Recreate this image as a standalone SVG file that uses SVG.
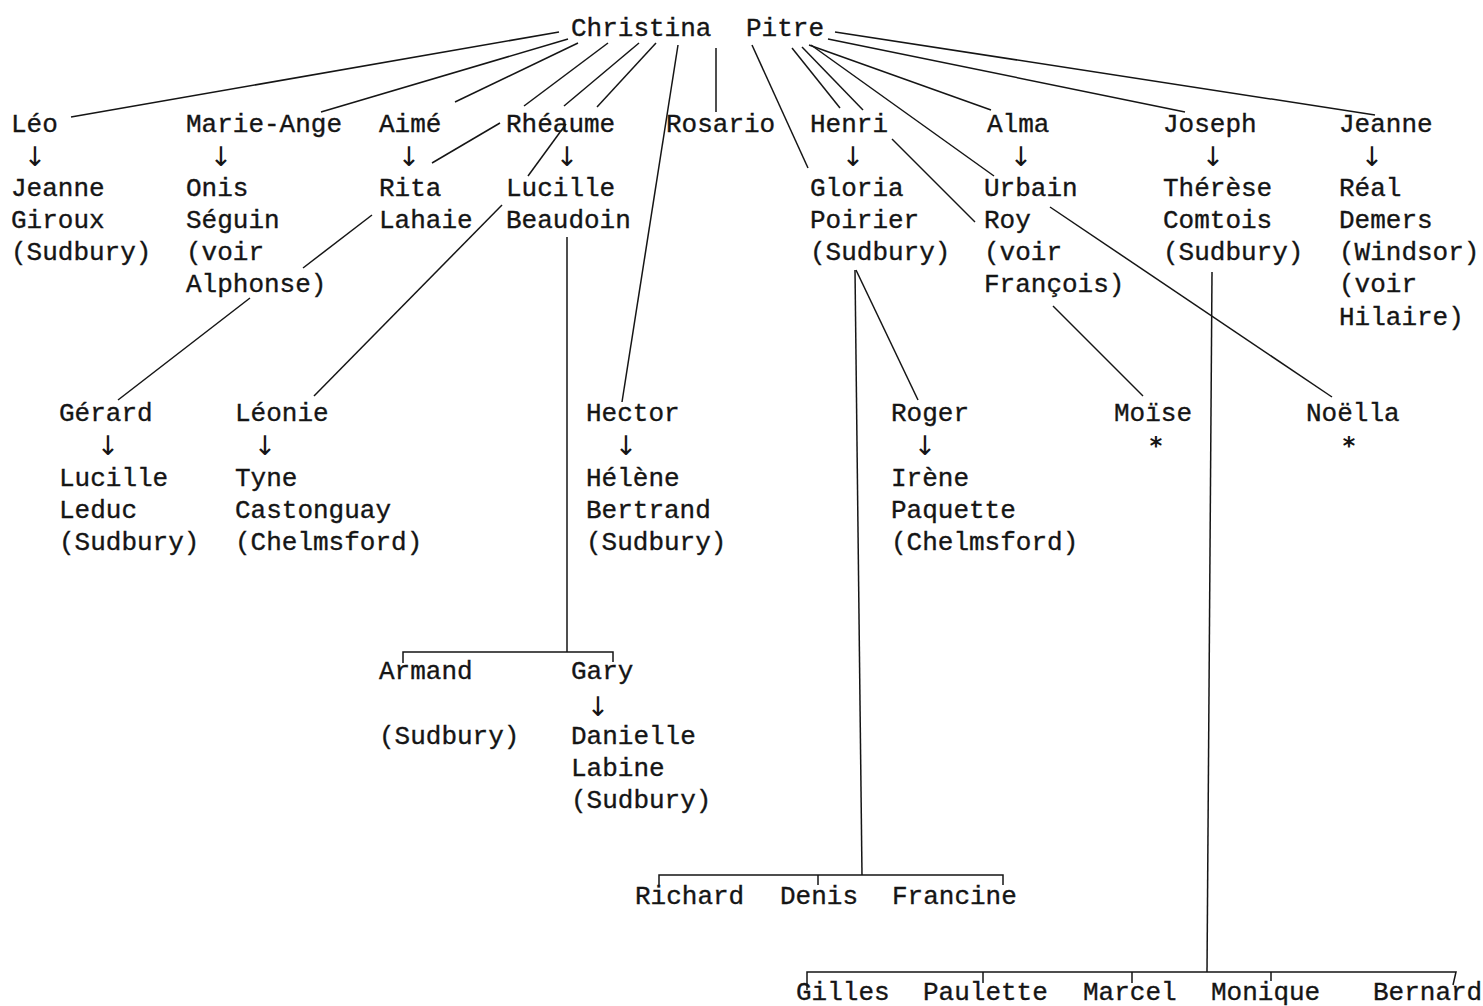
<svg xmlns="http://www.w3.org/2000/svg" width="1483" height="1006" viewBox="0 0 1483 1006">
<style>
.t{font-family:"Liberation Mono","DejaVu Sans Mono",monospace;font-size:26px;fill:#151515;stroke:#151515;stroke-width:0.35}
.a{font-family:"DejaVu Sans",sans-serif;font-size:27px;fill:#151515;text-anchor:middle}
.s{font-family:"DejaVu Sans Mono",monospace;font-size:24px;font-weight:bold;fill:#151515;text-anchor:middle}
.c line,.c polyline{stroke:#151515;stroke-width:1.5;fill:none}
</style>
<rect width="1483" height="1006" fill="#ffffff"/>
<g id="connectors" class="c">
<line x1="559" y1="32" x2="71" y2="117"/>
<line x1="568" y1="39" x2="321" y2="112"/>
<line x1="578" y1="43" x2="455" y2="102"/>
<line x1="608" y1="43" x2="524" y2="106"/>
<line x1="500" y1="123" x2="432" y2="163"/>
<line x1="639" y1="43" x2="564" y2="106"/>
<line x1="656" y1="43" x2="597" y2="107"/>
<line x1="678" y1="45" x2="622" y2="402"/>
<line x1="716" y1="48" x2="716" y2="112"/>
<line x1="566" y1="124" x2="528" y2="176"/>
<line x1="502" y1="205" x2="314" y2="396"/>
<line x1="372" y1="215" x2="303" y2="268"/>
<line x1="250" y1="298" x2="118" y2="400"/>
<line x1="567" y1="237" x2="567" y2="652"/>
<polyline points="403,663 403,652 613,652 613,662"/>
<line x1="752" y1="45" x2="808" y2="168"/>
<line x1="792" y1="48" x2="840" y2="108"/>
<line x1="802" y1="47" x2="863" y2="110"/>
<line x1="809" y1="45" x2="991" y2="110"/>
<line x1="811" y1="45" x2="994" y2="176"/>
<line x1="828" y1="39" x2="1185" y2="112"/>
<line x1="835" y1="32" x2="1375" y2="115"/>
<line x1="892" y1="139" x2="975" y2="222"/>
<line x1="1050" y1="207" x2="1332" y2="397"/>
<line x1="1053" y1="306" x2="1143" y2="396"/>
<line x1="855" y1="270" x2="862" y2="875"/>
<line x1="856" y1="270" x2="918" y2="400"/>
<polyline points="659,885 659,875 1003,875 1003,885"/>
<line x1="818" y1="875" x2="818" y2="885"/>
<line x1="1212" y1="272" x2="1207" y2="972"/>
<polyline points="807,990 807,972 1456,972 1453,985"/>
<line x1="983" y1="972" x2="983" y2="983"/>
<line x1="1132" y1="972" x2="1132" y2="983"/>
<line x1="1271" y1="972" x2="1271" y2="981"/>
</g>
<g id="christina-pitre"><text class="t" x="571" y="36">Christina</text><text class="t" x="746" y="36">Pitre</text></g>
<g id="leo"><text class="t" x="11" y="132">Léo</text><text class="a" x="35" y="166">↓</text><text class="t" x="11" y="196">Jeanne</text><text class="t" x="11" y="228">Giroux</text><text class="t" x="11" y="260">(Sudbury)</text></g>
<g id="marie-ange"><text class="t" x="186" y="132">Marie-Ange</text><text class="a" x="221" y="166">↓</text><text class="t" x="186" y="196">Onis</text><text class="t" x="186" y="228">Séguin</text><text class="t" x="186" y="260">(voir</text><text class="t" x="186" y="292">Alphonse)</text></g>
<g id="aime"><text class="t" x="379" y="132">Aimé</text><text class="a" x="409" y="166">↓</text><text class="t" x="379" y="196">Rita</text><text class="t" x="379" y="228">Lahaie</text></g>
<g id="rheaume"><text class="t" x="506" y="132">Rhéaume</text><text class="a" x="567" y="166">↓</text><text class="t" x="506" y="196">Lucille</text><text class="t" x="506" y="228">Beaudoin</text></g>
<g id="rosario"><text class="t" x="666" y="132">Rosario</text></g>
<g id="henri"><text class="t" x="810" y="132">Henri</text><text class="a" x="853" y="166">↓</text><text class="t" x="810" y="196">Gloria</text><text class="t" x="810" y="228">Poirier</text><text class="t" x="810" y="260">(Sudbury)</text></g>
<g id="alma"><text class="t" x="987" y="132">Alma</text><text class="a" x="1021" y="166">↓</text><text class="t" x="984" y="196">Urbain</text><text class="t" x="984" y="228">Roy</text><text class="t" x="984" y="260">(voir</text><text class="t" x="984" y="292">François)</text></g>
<g id="joseph"><text class="t" x="1163" y="132">Joseph</text><text class="a" x="1213" y="166">↓</text><text class="t" x="1163" y="196">Thérèse</text><text class="t" x="1163" y="228">Comtois</text><text class="t" x="1163" y="260">(Sudbury)</text></g>
<g id="jeanne"><text class="t" x="1339" y="132">Jeanne</text><text class="a" x="1372" y="166">↓</text><text class="t" x="1339" y="196">Réal</text><text class="t" x="1339" y="228">Demers</text><text class="t" x="1339" y="260">(Windsor)</text><text class="t" x="1339" y="292">(voir</text><text class="t" x="1339" y="325">Hilaire)</text></g>
<g id="gerard"><text class="t" x="59" y="421">Gérard</text><text class="a" x="108" y="455">↓</text><text class="t" x="59" y="486">Lucille</text><text class="t" x="59" y="518">Leduc</text><text class="t" x="59" y="550">(Sudbury)</text></g>
<g id="leonie"><text class="t" x="235" y="421">Léonie</text><text class="a" x="265" y="455">↓</text><text class="t" x="235" y="486">Tyne</text><text class="t" x="235" y="518">Castonguay</text><text class="t" x="235" y="550">(Chelmsford)</text></g>
<g id="hector"><text class="t" x="586" y="421">Hector</text><text class="a" x="626" y="455">↓</text><text class="t" x="586" y="486">Hélène</text><text class="t" x="586" y="518">Bertrand</text><text class="t" x="586" y="550">(Sudbury)</text></g>
<g id="roger"><text class="t" x="891" y="421">Roger</text><text class="a" x="925" y="455">↓</text><text class="t" x="891" y="486">Irène</text><text class="t" x="891" y="518">Paquette</text><text class="t" x="891" y="550">(Chelmsford)</text></g>
<g id="moise"><text class="t" x="1114" y="421">Moïse</text><text class="s" x="1156" y="454">*</text></g>
<g id="noella"><text class="t" x="1306" y="421">Noëlla</text><text class="s" x="1349" y="454">*</text></g>
<g id="armand"><text class="t" x="379" y="679">Armand</text><text class="t" x="379" y="744">(Sudbury)</text></g>
<g id="gary"><text class="t" x="571" y="679">Gary</text><text class="a" x="598" y="716">↓</text><text class="t" x="571" y="744">Danielle</text><text class="t" x="571" y="776">Labine</text><text class="t" x="571" y="808">(Sudbury)</text></g>
<g id="richard"><text class="t" x="635" y="904">Richard</text></g>
<g id="denis"><text class="t" x="780" y="904">Denis</text></g>
<g id="francine"><text class="t" x="892" y="904">Francine</text></g>
<g id="gilles"><text class="t" x="796" y="1000">Gilles</text></g>
<g id="paulette"><text class="t" x="923" y="1000">Paulette</text></g>
<g id="marcel"><text class="t" x="1083" y="1000">Marcel</text></g>
<g id="monique"><text class="t" x="1211" y="1000">Monique</text></g>
<g id="bernard"><text class="t" x="1373" y="1000">Bernard</text></g>
</svg>
